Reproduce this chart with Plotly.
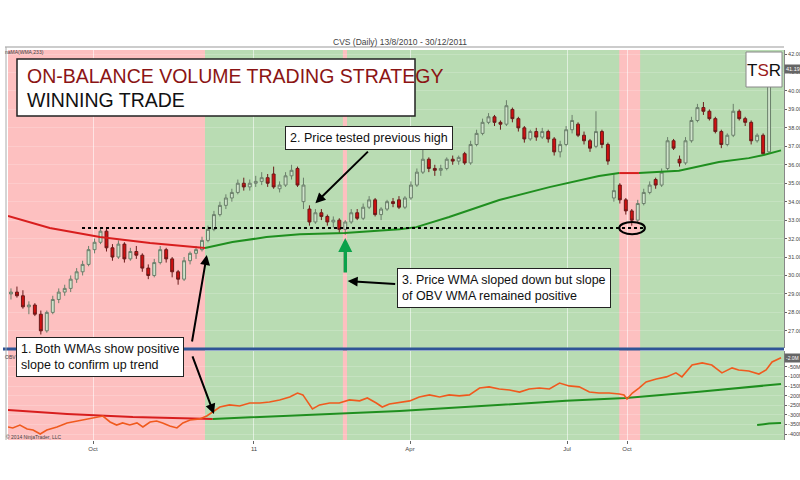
import plotly.graph_objects as go

# ---------------- data ----------------
bar_idx = list(range(128))
open_ = [29.0, 29.1, 28.9, 28.3, 28.4, 27.9, 27.0, 28.0, 28.7, 29.1,
         29.3, 29.8, 30.2, 30.6, 31.4, 31.8, 32.4, 31.5, 31.0, 31.7,
         30.9, 31.3, 31.1, 30.4, 30.0, 30.7, 31.4, 30.9, 30.2, 29.8,
         30.8, 31.2, 31.4, 31.9, 32.5, 33.3, 33.8, 34.2, 34.5, 35.0,
         34.8, 35.0, 35.1, 35.3, 35.5, 34.7, 34.9, 35.4, 35.8, 34.0,
         33.6, 32.9, 33.4, 33.2, 32.9, 33.0, 32.5, 32.9, 33.4, 33.1,
         33.7, 34.1, 33.3, 33.6, 34.0, 34.1, 33.7, 34.2, 34.9, 35.6,
         36.3, 35.8, 35.7, 35.8, 36.3, 36.2, 36.6, 36.1, 37.1, 37.7,
         38.3, 38.6, 38.3, 38.2, 39.0, 38.5, 38.0, 37.4, 37.8, 37.5,
         37.8, 37.4, 36.7, 37.1, 37.9, 38.2, 37.6, 37.3, 37.0, 37.8,
         37.1, 34.2, 34.9, 34.1, 33.5, 33.0, 33.9, 34.5, 35.2, 34.9,
         35.8, 37.3, 36.3, 36.1, 37.3, 38.4, 39.1, 38.9, 38.5, 37.8,
         37.1, 37.6, 38.9, 38.5, 38.3, 37.3, 37.6, 36.7]
high = [29.3, 29.4, 29.2, 28.6, 28.5, 28.1, 28.1, 28.9, 29.3, 29.5,
        30.0, 30.4, 30.8, 31.6, 32.0, 32.6, 32.6, 31.7, 31.9, 31.8,
        31.5, 31.6, 31.2, 30.6, 30.9, 31.6, 31.5, 31.0, 30.3, 31.0,
        31.3, 31.6, 32.1, 32.7, 33.5, 34.0, 34.4, 34.7, 35.2, 35.3,
        35.2, 35.4, 35.6, 35.5, 35.9, 35.1, 35.6, 36.0, 35.9, 35.3,
        33.8, 33.6, 33.6, 33.3, 33.2, 33.1, 33.0, 33.6, 33.6, 33.9,
        34.3, 34.2, 33.7, 34.1, 34.2, 34.3, 34.3, 35.1, 35.8, 36.8,
        36.4, 36.0, 36.0, 36.4, 36.5, 36.5, 36.7, 37.3, 37.9, 38.5,
        38.8, 38.7, 38.4, 39.5, 39.1, 38.6, 38.1, 37.9, 38.0, 38.0,
        37.9, 37.5, 37.3, 38.1, 38.7, 38.3, 37.8, 37.4, 38.9, 37.9,
        37.2, 35.5, 35.0, 34.2, 33.6, 34.1, 34.7, 35.1, 35.3, 35.8,
        37.5, 37.4, 36.5, 37.5, 38.6, 39.3, 39.4, 39.0, 38.6, 37.9,
        37.7, 39.3, 39.0, 38.6, 38.4, 37.7, 37.7, 41.3]
low = [28.7, 28.8, 28.2, 27.9, 27.8, 26.8, 26.9, 27.9, 28.5, 28.9,
       29.1, 29.6, 30.0, 30.5, 31.2, 31.7, 31.3, 30.8, 30.9, 30.7,
       30.8, 30.9, 30.2, 29.8, 29.9, 30.6, 30.7, 29.9, 29.5, 29.7,
       30.6, 30.9, 31.3, 31.8, 32.4, 33.2, 33.6, 34.0, 34.4, 34.6,
       34.6, 34.8, 34.9, 34.8, 34.7, 34.5, 34.8, 35.2, 34.8, 33.6,
       32.7, 32.8, 33.0, 32.7, 32.6, 32.3, 32.2, 32.8, 33.0, 33.0,
       33.6, 33.2, 33.0, 33.5, 33.7, 33.6, 33.6, 34.1, 34.8, 35.5,
       35.6, 35.4, 35.4, 35.7, 36.0, 36.0, 36.0, 36.0, 37.0, 37.6,
       38.2, 38.1, 37.9, 38.1, 38.3, 37.8, 37.2, 37.3, 37.3, 37.4,
       37.2, 36.5, 36.4, 37.0, 37.7, 37.5, 37.1, 36.7, 36.9, 36.9,
       36.0, 34.0, 33.9, 33.3, 32.7, 32.9, 33.8, 34.4, 34.7, 34.8,
       35.7, 36.8, 35.9, 36.0, 37.2, 38.3, 38.7, 38.4, 37.7, 36.9,
       37.0, 37.5, 38.4, 38.1, 37.1, 37.2, 36.5, 36.6]
close = [29.1, 28.9, 28.3, 28.4, 27.9, 27.0, 28.0, 28.7, 29.1, 29.3,
         29.8, 30.2, 30.6, 31.4, 31.8, 32.4, 31.5, 31.0, 31.7, 30.9,
         31.3, 31.1, 30.4, 30.0, 30.7, 31.4, 30.9, 30.2, 29.8, 30.8,
         31.2, 31.4, 31.9, 32.5, 33.3, 33.8, 34.2, 34.5, 35.0, 34.8,
         35.0, 35.1, 35.3, 35.0, 34.8, 34.9, 35.4, 35.7, 34.9, 34.9,
         32.9, 33.4, 33.2, 32.9, 33.0, 32.5, 32.9, 33.4, 33.1, 33.7,
         34.1, 33.3, 33.6, 34.0, 33.9, 33.7, 34.2, 34.9, 35.6, 36.3,
         35.8, 35.7, 35.8, 36.3, 36.2, 36.4, 36.1, 37.1, 37.7, 38.3,
         38.6, 38.3, 38.2, 39.2, 38.5, 38.0, 37.4, 37.8, 37.5, 37.8,
         37.4, 36.7, 37.1, 37.9, 38.4, 37.6, 37.3, 36.9, 37.8, 37.1,
         36.2, 34.6, 34.1, 33.5, 33.0, 33.9, 34.5, 34.9, 34.9, 35.6,
         37.3, 36.9, 36.1, 37.3, 38.4, 39.1, 38.9, 38.5, 37.8, 37.1,
         37.6, 38.9, 38.5, 38.3, 37.3, 37.6, 36.6, 41.19]

# price WMA(233): falling (red) and rising (green) segments
wma_down_x = [-0.5, 6.5, 14.9, 23.3, 32.5]
wma_down = [33.22, 32.57, 32.08, 31.76, 31.49]
wma_up_x = [32.5, 37.1, 42.8, 48.4, 55.9, 65.1, 67.9, 73.4, 81.8, 90.2, 98.5, 101.9]
wma_up = [31.49, 31.81, 32.08, 32.24, 32.30, 32.51, 32.62, 33.17, 34.09, 34.79, 35.39, 35.55]
wma_flat_x = [101.9, 105.2]
wma_flat = [35.55, 35.55]
wma_up2_x = [105.2, 111.9, 118.6, 123.6, 126.1, 129.0]
wma_up2 = [35.55, 35.68, 36.15, 36.36, 36.53, 36.78]

# OBV (millions)
obv_x = [-0.5, 0.3, 1.5, 2.7, 3.7, 4.9, 6.0, 7.7, 9.4, 11.0, 12.7, 14.4, 15.4, 16.6,
         17.7, 18.7, 19.9, 21.1, 22.1, 23.3, 24.4, 25.4, 26.6, 27.8, 28.8, 30.0,
         31.6, 32.8, 33.8, 35.0, 36.6, 38.3, 40.0, 41.7, 43.3, 45.0, 46.7, 48.0,
         48.9, 49.7, 50.5, 51.7, 53.4, 55.0, 56.7, 58.4, 59.7, 61.2, 62.2, 63.4,
         65.1, 66.8, 68.4, 70.1, 71.8, 73.4, 75.1, 76.8, 78.5, 80.1, 81.8, 83.5,
         85.2, 86.8, 88.5, 90.2, 91.9, 93.5, 95.2, 96.9, 98.5, 100.2, 101.9, 102.7,
         103.2, 104.1, 105.2, 106.4, 108.1, 109.8, 111.4, 112.4, 114.1, 115.8,
         117.4, 119.1, 120.8, 121.9, 123.6, 125.3, 126.5, 127.5, 129.0]
obv = [-363, -368, -353, -374, -379, -400, -379, -363, -342, -332, -321, -311, -306, -337,
       -353, -342, -353, -342, -363, -337, -332, -342, -358, -368, -342, -327,
       -321, -306, -285, -259, -248, -254, -238, -238, -233, -222, -207, -186,
       -196, -233, -269, -248, -238, -238, -222, -227, -212, -238, -259, -243,
       -236, -227, -207, -196, -207, -196, -201, -196, -160, -154, -165, -170,
       -181, -165, -160, -165, -134, -149, -154, -181, -186, -186, -191, -196,
       -217, -186, -160, -128, -113, -102, -81, -102, -40, -29,
       -40, -81, -55, -66, -71, -87, -66, -24, -2]

# OBV WMA
obvw_down_x = [-0.5, 9.4, 20.4, 33.8]
obvw_down = [-274, -295, -311, -321]
obvw_up_x = [33.8, 48.4, 65.1, 93.0, 103.0, 115.3, 129.0]
obvw_up = [-321, -301, -280, -227, -212, -180, -139]
obvw2_x = [125.0, 127.0, 129.0]
obvw2 = [-353, -345, -342]

# bar-index spans where the price WMA slope is negative (pink background)
down_spans = [(-0.5, 32.5), (55.6, 56.3), (101.9, 105.4)]
resistance = 32.57
x_ticks = [13.74, 40.71, 66.85, 93.15, 103.2]
x_tick_text = ["Oct", "11", "Apr", "Jul", "Oct"]
price_ticks = list(range(26, 43))
obv_ticks = [-50, -100, -150, -200, -250, -300, -350, -400]

# ---------------- figure ----------------
GREEN_BG = "#b9dcb3"
PINK_BG = "#fdc0c0"
RED = "#d81e1e"
GREEN = "#1f8f1f"
AX_FONT = dict(family="Liberation Sans, Arial, sans-serif", size=5.5, color="#444")
BOX_FONT = dict(family="Liberation Sans, Arial, sans-serif", size=12.5, color="#111")
TITLE_FAMILY = "Liberation Sans, Arial, sans-serif"
SMALL = dict(family="Liberation Sans, Arial, sans-serif", size=5, color="#444")

fig = go.Figure()

fig.add_trace(go.Candlestick(
    x=bar_idx, open=open_, high=high, low=low, close=close,
    increasing=dict(line=dict(color="#6b7f6b", width=1), fillcolor="#cfe3cb"),
    decreasing=dict(line=dict(color="#6a1a1a", width=1), fillcolor="#d01010"),
    whiskerwidth=0, xaxis="x", yaxis="y", showlegend=False, hoverinfo="skip"))

for xs, ys, col in [(wma_down_x, wma_down, RED), (wma_up_x, wma_up, GREEN),
                    (wma_flat_x, wma_flat, RED), (wma_up2_x, wma_up2, GREEN)]:
    fig.add_trace(go.Scatter(x=xs, y=ys, mode="lines", line=dict(color=col, width=2),
                             xaxis="x", yaxis="y", showlegend=False, hoverinfo="skip"))

for xs, ys, col in [(obvw_down_x, obvw_down, RED), (obvw_up_x, obvw_up, GREEN),
                    (obvw2_x, obvw2, GREEN)]:
    fig.add_trace(go.Scatter(x=xs, y=ys, mode="lines", line=dict(color=col, width=2),
                             xaxis="x2", yaxis="y2", showlegend=False, hoverinfo="skip"))

fig.add_trace(go.Scatter(x=obv_x, y=obv, mode="lines", line=dict(color="#f05a1e", width=1.6),
                         xaxis="x2", yaxis="y2", showlegend=False, hoverinfo="skip"))

# plot area in pixels: left 8, right 784, top 50, bottom 440
L, R, T, B = 8, 784, 50, 440
def px(x):
    return (x - L) / (R - L)
def py(y):
    return (B - y) / (B - T)

shapes = []
for a, b in down_spans:
    shapes.append(dict(type="rect", xref="x", yref="paper", x0=a, x1=b, y0=0, y1=1,
                       fillcolor=PINK_BG, line=dict(width=0), layer="below"))
# resistance dotted line + ellipse
shapes.append(dict(type="line", xref="x", yref="y", x0=11.9, x1=106.0,
                   y0=resistance, y1=resistance, line=dict(color="black", width=2, dash="dot")))
shapes.append(dict(type="circle", xref="x", yref="y", x0=101.9, x1=106.2,
                   y0=resistance - 0.33, y1=resistance + 0.33,
                   line=dict(color="black", width=2)))
# panel separator
shapes.append(dict(type="line", xref="paper", yref="paper", x0=px(3), x1=1.0,
                   y0=py(349), y1=py(349), line=dict(color="#2f5496", width=3)))
# frame
shapes.append(dict(type="line", xref="paper", yref="paper", x0=px(5), x1=1.0,
                   y0=py(47), y1=py(47), line=dict(color="#999", width=1)))
shapes.append(dict(type="line", xref="paper", yref="paper", x0=px(6), x1=px(6),
                   y0=0, y1=py(47), line=dict(color="#aaa", width=1)))
# title box
shapes.append(dict(type="rect", xref="paper", yref="paper", x0=px(17), x1=px(415),
                   y0=py(116), y1=py(59), fillcolor="white", line=dict(color="#222", width=1.5)))
# TSR box
shapes.append(dict(type="rect", xref="paper", yref="paper", x0=px(746), x1=px(782),
                   y0=py(87), y1=py(52), fillcolor="white", line=dict(color="#888", width=1)))

def note(text, x, y, font, xanchor="center", **kw):
    return dict(text=text, xref="paper", yref="paper", x=px(x), y=py(y),
                xanchor=xanchor, yanchor="middle", showarrow=False, font=font, **kw)

annotations = [
    note("CVS (Daily) 13/8/2010 - 30/12/2011", 400, 42,
         dict(family="Liberation Sans, Arial, sans-serif", size=8.5, color="#444")),
    note("ON-BALANCE VOLUME TRADING STRATEGY", 25, 76,
         dict(family=TITLE_FAMILY, size=19.5, color="#8b1414"), xanchor="left"),
    note("WINNING TRADE", 25, 100,
         dict(family=TITLE_FAMILY, size=19.5, color="#111"), xanchor="left"),
    note("T<span style='color:#9b1c1c'>S</span>R", 764, 70,
         dict(family=TITLE_FAMILY, size=17, color="#111")),
    note("naMA(WMA,233)", 3, 52, SMALL, xanchor="left"),
    note("OBV", 3, 357, SMALL, xanchor="left"),
    note("© 2014 NinjaTrader, LLC", 4, 437, SMALL, xanchor="left"),
    # text boxes
    note("2. Price tested previous high", 369, 138, BOX_FONT, bgcolor="white",
         bordercolor="#222", borderwidth=1, borderpad=4),
    note("3. Price WMA sloped down but slope<br>of OBV WMA remained positive", 397, 288,
         BOX_FONT, xanchor="left", bgcolor="white", align="left",
         bordercolor="#222", borderwidth=1, borderpad=4),
    note("1. Both WMAs show positive<br>slope to confirm up trend", 16, 357,
         BOX_FONT, xanchor="left", bgcolor="white", align="left",
         bordercolor="#222", borderwidth=1, borderpad=4),
    # arrows
    dict(text="", xref="x", yref="y", x=51.0, y=33.92, ax=54, ay=-53,
         showarrow=True, arrowhead=2, arrowsize=1, arrowwidth=2, arrowcolor="black"),
    dict(text="", xref="x", yref="y", x=56.4, y=29.70, ax=49, ay=3,
         showarrow=True, arrowhead=2, arrowsize=1, arrowwidth=2, arrowcolor="black"),
    dict(text="", xref="x", yref="y", x=56.0, y=32.03, ax=0, ay=36,
         showarrow=True, arrowhead=2, arrowsize=0.8, arrowwidth=3.5, arrowcolor="#0aa24a"),
    dict(text="", xref="x", yref="y", x=32.8, y=31.11, ax=-15, ay=88,
         showarrow=True, arrowhead=2, arrowsize=1, arrowwidth=2, arrowcolor="black"),
    dict(text="", xref="x2", yref="y2", x=34.0, y=-295, ax=-22, ay=-59,
         showarrow=True, arrowhead=2, arrowsize=1, arrowwidth=2, arrowcolor="black"),
    # last value markers
    dict(text=f"{close[-1]:.2f}", xref="paper", yref="y", x=1.0, y=close[-1],
         xanchor="left", yanchor="middle", showarrow=False, bgcolor="#666",
         font=dict(family="Liberation Sans, Arial, sans-serif", size=5.5, color="white")),
    dict(text=f"{obv[-1]:.1f}M", xref="paper", yref="y2", x=1.0, y=obv[-1],
         xanchor="left", yanchor="middle", showarrow=False, bgcolor="#666",
         font=dict(family="Liberation Sans, Arial, sans-serif", size=5, color="white")),
]

axis_common = dict(range=[-0.5, 129.5], tickvals=x_ticks, ticktext=x_tick_text,
                   showgrid=True, gridcolor="rgba(255,255,255,0.55)", gridwidth=1,
                   zeroline=False, rangeslider=dict(visible=False), automargin=False)

fig.update_layout(
    width=800, height=480,
    margin=dict(l=L, r=800 - R, t=T, b=480 - B),
    paper_bgcolor="white", plot_bgcolor=GREEN_BG,
    showlegend=False,
    xaxis=dict(**axis_common, anchor="y", showticklabels=False, ticks=""),
    xaxis2=dict(**axis_common, anchor="y2", matches="x", showticklabels=True,
                ticks="outside", ticklen=3, tickcolor="#666",
                tickfont=dict(family="Liberation Sans, Arial, sans-serif", size=6, color="#444")),
    yaxis=dict(domain=[py(348), 1.0], range=[26.07, 42.22], side="right",
               tickvals=price_ticks, ticktext=[f"{v:.2f}" for v in price_ticks],
               ticks="outside", ticklen=2, tickcolor="#666", tickfont=AX_FONT,
               showline=True, linecolor="#888", linewidth=1, automargin=False,
               showgrid=True, gridcolor="rgba(255,255,255,0.18)", zeroline=False),
    yaxis2=dict(domain=[0, py(351)], range=[-431, 33], side="right",
                tickvals=obv_ticks, ticktext=[f"{v}M" for v in obv_ticks],
                ticks="outside", ticklen=2, tickcolor="#666", tickfont=AX_FONT,
                showline=True, linecolor="#888", linewidth=1, automargin=False,
                showgrid=True, gridcolor="rgba(255,255,255,0.18)", zeroline=False),
    shapes=shapes, annotations=annotations,
)

fig.write_html("out.html")
